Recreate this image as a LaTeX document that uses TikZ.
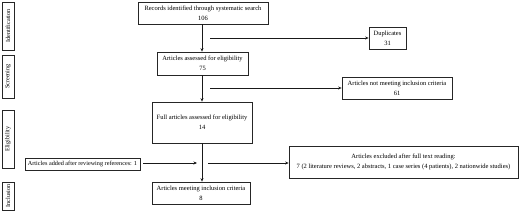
\documentclass[tikz,border=0pt]{standalone}
\usepackage{fontspec}
\setmainfont{Liberation Serif}
\usetikzlibrary{arrows.meta}
\begin{document}
\begin{tikzpicture}[x=1pt,y=-1pt,
  box/.style={draw=black!85,line width=0.7pt,inner sep=0pt,align=center,
    font=\fontsize{6.5}{9.8}\selectfont},
  side/.style={draw=black!85,line width=0.7pt,inner sep=0pt,rotate=90,
    font=\fontsize{6.2}{7}\selectfont,minimum height=12pt},
  arr/.style={draw=black!90,line width=0.7pt,-{Stealth[length=3.5pt,width=3pt]}},
  ln/.style={draw=black!90,line width=0.7pt}]
\useasboundingbox (0,0) rectangle (520,212);
% side labels
\node[side,minimum width=48pt] (sid) at (8,26) {Identification};
\node[side,minimum width=43pt] (sscr) at (8,76.5) {Screening};
\node[side,minimum width=58pt] (selig) at (8,139) {Eligibility};
\node[side,minimum width=28pt] (sinc) at (8,196) {Inclusion};
% main boxes
\node[box,minimum width=130pt,minimum height=22pt] (rec) at (203,13) {Records identified through systematic search\\106};
\node[box,minimum width=37pt,minimum height=22pt] (dup) at (387.5,38) {Duplicates\\31};
\node[box,minimum width=91pt,minimum height=23pt] (ass) at (202.5,63.5) {Articles assessed for eligibility\\75};
\node[box,minimum width=110pt,minimum height=22pt] (notm) at (397,88) {Articles not meeting inclusion criteria\\61};
\node[box,minimum width=100pt,minimum height=41pt] (full) at (202,122.5) {Full articles assessed for eligibility\\14};
\node[box,minimum width=115pt,minimum height=12pt,font=\fontsize{6.2}{7}\selectfont] (add) at (82.5,164) {Articles added after reviewing references: 1};
\node[box,minimum width=229pt,minimum height=32pt] (excl) at (403.5,162) {Articles excluded after full text reading:\\7 (2 literature reviews, 2 abstracts, 1 case series (4 patients), 2 nationwide studies)};
\node[box,minimum width=98pt,minimum height=22pt] (meet) at (201,193) {Articles meeting inclusion criteria\\8};
% connectors
\coordinate (b1) at (210,38);
\coordinate (b2) at (210,88);
\coordinate (b3) at (208,163);
\coordinate (a3) at (197,163);
\draw[arr] (rec.south -| 202,0) -- (ass.north -| 202,0);
\draw[arr] (b1) -- (b1 -| dup.west);
\draw[arr] (ass.south -| 202,0) -- (full.north -| 202,0);
\draw[arr] (b2) -- (b2 -| notm.west);
\draw[arr] (full.south -| 202,0) -- (meet.north -| 202,0);
\draw[arr] ([xshift=3pt]add.east |- a3) -- (a3);
\draw[arr] (b3) -- (b3 -| excl.west);
\end{tikzpicture}
\end{document}
